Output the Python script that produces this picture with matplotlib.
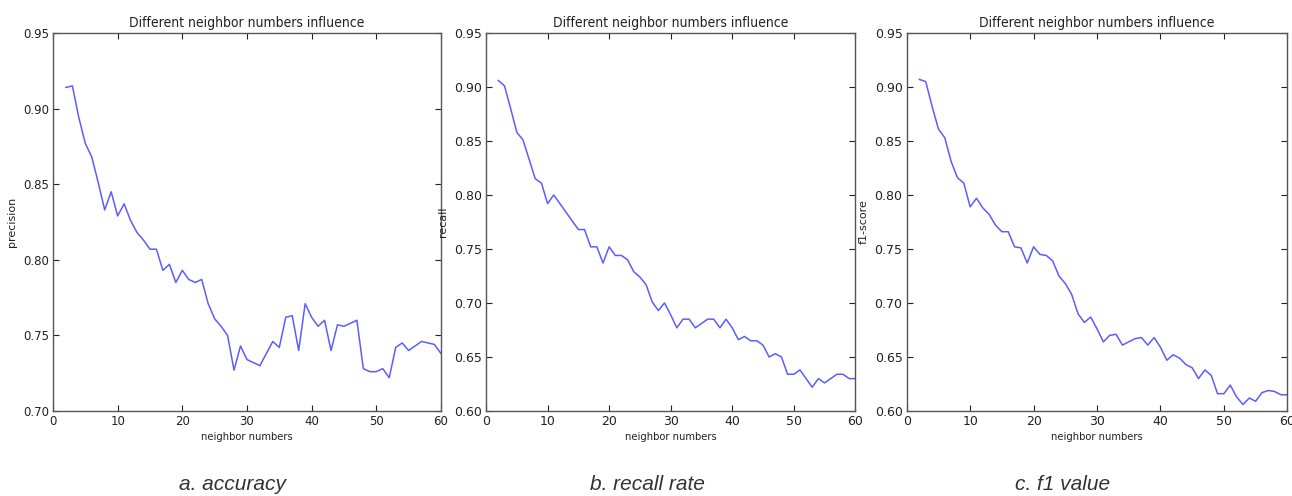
import numpy as np
import matplotlib
matplotlib.use("Agg")
import matplotlib.pyplot as plt

# ── Données ──────────────────────────────────────────────────
neighbors = list(range(2, 61))

precision = [0.914, 0.915, 0.894, 0.877, 0.868, 0.851, 0.833, 0.845, 0.829, 0.837,
             0.826, 0.818, 0.813, 0.807, 0.807, 0.793, 0.797, 0.785, 0.793, 0.787,
             0.785, 0.787, 0.771, 0.761, 0.756, 0.750, 0.727, 0.743, 0.734, 0.732,
             0.730, 0.738, 0.746, 0.742, 0.762, 0.763, 0.740, 0.771, 0.762, 0.756,
             0.760, 0.740, 0.757, 0.756, 0.758, 0.760, 0.728, 0.726, 0.726, 0.728,
             0.722, 0.742, 0.745, 0.740, 0.743, 0.746, 0.745, 0.744, 0.738]

recall = [0.906, 0.901, 0.880, 0.858, 0.851, 0.833, 0.815, 0.811, 0.792, 0.800,
          0.792, 0.784, 0.776, 0.768, 0.768, 0.752, 0.752, 0.737, 0.752, 0.744,
          0.744, 0.740, 0.729, 0.724, 0.717, 0.701, 0.693, 0.700, 0.689, 0.677,
          0.685, 0.685, 0.677, 0.681, 0.685, 0.685, 0.677, 0.685, 0.677, 0.666,
          0.669, 0.665, 0.665, 0.661, 0.650, 0.653, 0.650, 0.634, 0.634, 0.638,
          0.630, 0.622, 0.630, 0.626, 0.630, 0.634, 0.634, 0.630, 0.630]

f1 = [0.907, 0.905, 0.882, 0.861, 0.853, 0.831, 0.816, 0.811, 0.789, 0.797,
      0.788, 0.782, 0.772, 0.766, 0.766, 0.752, 0.751, 0.737, 0.752, 0.745,
      0.744, 0.739, 0.725, 0.718, 0.708, 0.690, 0.682, 0.687, 0.676, 0.664,
      0.670, 0.671, 0.661, 0.664, 0.667, 0.668, 0.661, 0.668, 0.659, 0.647,
      0.652, 0.649, 0.643, 0.640, 0.630, 0.638, 0.633, 0.616, 0.616, 0.624,
      0.613, 0.606, 0.612, 0.609, 0.617, 0.619, 0.618, 0.615, 0.615]

panels = [
    (precision, "precision", (0.70, 0.95), "a. accuracy"),
    (recall,    "recall",    (0.60, 0.95), "b. recall rate"),
    (f1,        "f1-score",  (0.60, 0.95), "c. f1 value"),
]

# positions des axes et des légendes (fractions de figure)
lefts    = [0.0410, 0.3762, 0.7018]
widths   = [0.3003, 0.2858, 0.2946]
cap_x    = [0.1796, 0.5008, 0.8228]
labsizes = [8.5, 9.0, 9.0]
bottom, height = 0.1714, 0.7621

fig = plt.figure(figsize=(12.92, 4.96), dpi=100)
fig.patch.set_facecolor("white")

for (vals, ylab, ylim, caption), l, w, cx, ls in zip(panels, lefts, widths, cap_x, labsizes):
    ax = fig.add_axes([l, bottom, w, height])
    ax.plot(neighbors, vals, color="#4040ff", lw=1.1, alpha=0.85)
    ax.set_xlim(0, 60)
    ax.set_ylim(*ylim)
    yt = np.arange(ylim[0], ylim[1] + 1e-9, 0.05)
    ax.set_xticks(range(0, 61, 10))
    ax.set_yticks(yt)
    ax.set_yticklabels([f"{v:.2f}" for v in yt])
    ax.tick_params(direction="in", top=True, right=True, length=4,
                   width=0.8, colors="#222222", labelsize=ls, pad=3)
    for sp in ax.spines.values():
        sp.set_color("#555555")
        sp.set_linewidth(1.0)
    ax.set_title("Different neighbor numbers influence", fontsize=10,
                 color="#222222", pad=4, fontstretch="condensed")
    ax.set_xlabel("neighbor numbers", fontsize=8, color="#222222",
                  labelpad=3, fontstretch="condensed")
    ax.set_ylabel(ylab, fontsize=8, color="#222222", labelpad=4)
    fig.text(cx, 0.004, caption, ha="center", va="bottom",
             fontsize=15, style="italic", color="#333333",
             family="Liberation Sans")

plt.savefig("out.png", dpi=100)
plt.close()
